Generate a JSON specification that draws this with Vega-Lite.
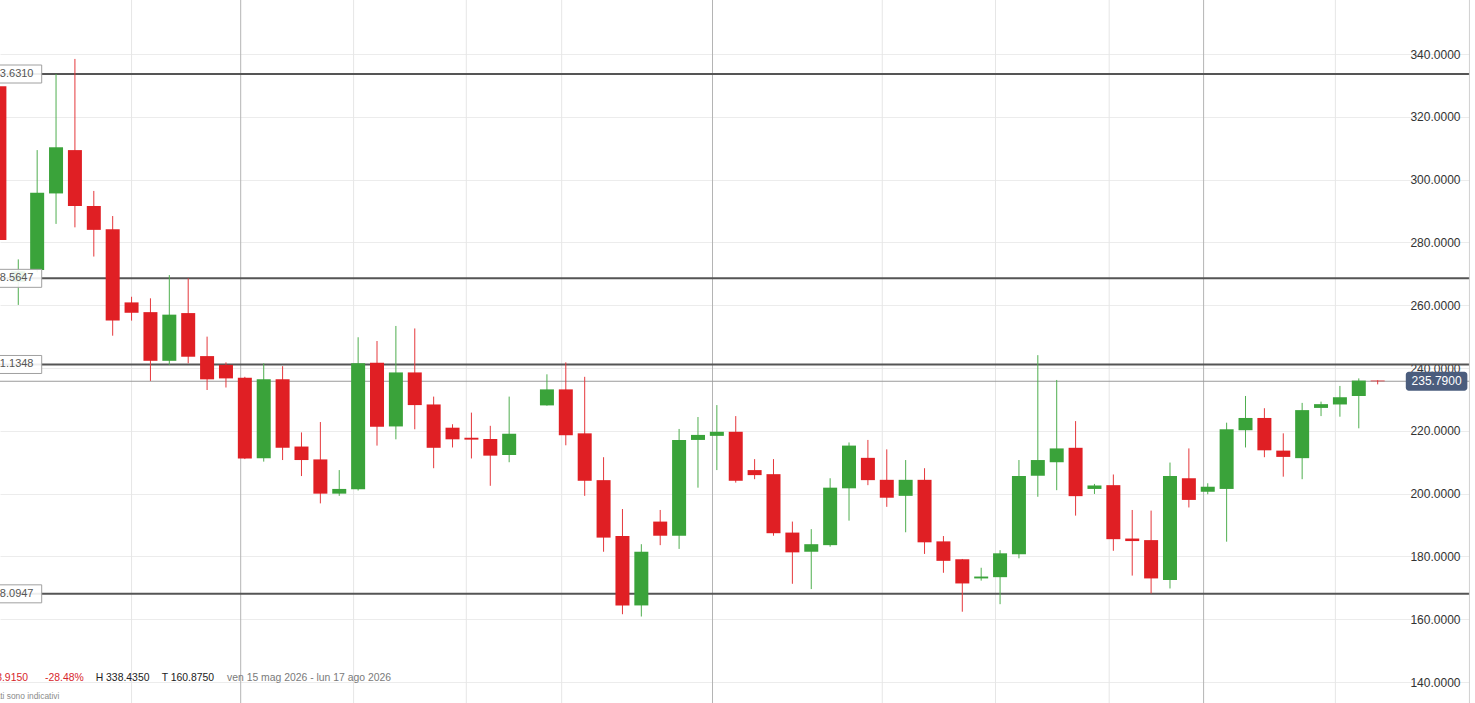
{
  "$schema": "https://vega.github.io/schema/vega-lite/v6.json",
  "width": 1470,
  "height": 703,
  "autosize": {"type": "none"},
  "padding": 0,
  "background": "white",
  "config": {"view": {"stroke": null}, "font": "Liberation Sans"},
  "datasets": {
    "candles": [
      {"s": 0, "o": 329.7, "h": 331.0, "l": 279.5, "c": 280.8},
      {"s": 1, "o": 267.5, "h": 274.6, "l": 260.1, "c": 270.8},
      {"s": 2, "o": 271.2, "h": 309.4, "l": 270.5, "c": 295.8},
      {"s": 3, "o": 295.6, "h": 333.6, "l": 285.9, "c": 310.3},
      {"s": 4, "o": 309.4, "h": 338.435, "l": 284.8, "c": 291.6},
      {"s": 5, "o": 291.6, "h": 296.4, "l": 275.5, "c": 284.0},
      {"s": 6, "o": 284.2, "h": 288.4, "l": 250.3, "c": 255.1},
      {"s": 7, "o": 260.9, "h": 262.7, "l": 255.1, "c": 257.6},
      {"s": 8, "o": 257.8, "h": 262.2, "l": 235.9, "c": 242.3},
      {"s": 9, "o": 242.3, "h": 269.6, "l": 241.0, "c": 257.0},
      {"s": 10, "o": 257.5, "h": 268.6, "l": 241.5, "c": 243.6},
      {"s": 11, "o": 243.8, "h": 250.0, "l": 233.0, "c": 236.4},
      {"s": 12, "o": 241.0, "h": 241.8, "l": 233.8, "c": 236.7},
      {"s": 13, "o": 236.9, "h": 237.2, "l": 211.0, "c": 211.2},
      {"s": 14, "o": 211.3, "h": 241.5, "l": 210.2, "c": 236.4},
      {"s": 15, "o": 236.4, "h": 240.6, "l": 210.7, "c": 214.6},
      {"s": 16, "o": 215.0, "h": 219.5, "l": 205.6, "c": 210.7},
      {"s": 17, "o": 210.9, "h": 222.8, "l": 196.9, "c": 200.0},
      {"s": 18, "o": 200.0, "h": 207.5, "l": 199.3, "c": 201.5},
      {"s": 19, "o": 201.4, "h": 249.8, "l": 201.0, "c": 241.5},
      {"s": 20, "o": 241.7, "h": 248.6, "l": 215.3, "c": 221.3},
      {"s": 21, "o": 221.4, "h": 253.4, "l": 217.3, "c": 238.6},
      {"s": 22, "o": 238.6, "h": 252.6, "l": 220.5, "c": 228.2},
      {"s": 23, "o": 228.4, "h": 230.9, "l": 208.1, "c": 214.6},
      {"s": 24, "o": 221.0, "h": 222.1, "l": 214.7, "c": 217.3},
      {"s": 25, "o": 217.8, "h": 225.8, "l": 211.2, "c": 217.2},
      {"s": 26, "o": 217.4, "h": 221.6, "l": 202.5, "c": 212.1},
      {"s": 27, "o": 212.3, "h": 230.9, "l": 210.0, "c": 219.1},
      {"s": 29, "o": 228.1, "h": 238.0, "l": 228.0, "c": 233.2},
      {"s": 30, "o": 233.2, "h": 241.8, "l": 215.4, "c": 218.6},
      {"s": 31, "o": 219.2, "h": 237.2, "l": 199.3, "c": 204.1},
      {"s": 32, "o": 204.3, "h": 211.6, "l": 181.5, "c": 186.0},
      {"s": 33, "o": 186.5, "h": 195.1, "l": 161.6, "c": 164.4},
      {"s": 34, "o": 164.4, "h": 183.9, "l": 160.875, "c": 181.5},
      {"s": 35, "o": 191.1, "h": 194.8, "l": 183.6, "c": 186.6},
      {"s": 36, "o": 186.6, "h": 220.6, "l": 182.4, "c": 217.1},
      {"s": 37, "o": 217.1, "h": 224.4, "l": 201.9, "c": 218.7},
      {"s": 38, "o": 218.4, "h": 228.2, "l": 207.5, "c": 219.7},
      {"s": 39, "o": 219.7, "h": 224.7, "l": 203.5, "c": 204.1},
      {"s": 40, "o": 207.5, "h": 211.0, "l": 204.6, "c": 205.9},
      {"s": 41, "o": 206.2, "h": 211.0, "l": 186.6, "c": 187.4},
      {"s": 42, "o": 187.6, "h": 191.1, "l": 171.3, "c": 181.3},
      {"s": 43, "o": 181.5, "h": 188.7, "l": 169.6, "c": 183.9},
      {"s": 44, "o": 183.6, "h": 204.9, "l": 183.1, "c": 201.9},
      {"s": 45, "o": 201.7, "h": 216.3, "l": 191.4, "c": 215.3},
      {"s": 46, "o": 211.4, "h": 217.1, "l": 202.7, "c": 204.3},
      {"s": 47, "o": 204.4, "h": 214.1, "l": 195.8, "c": 198.7},
      {"s": 48, "o": 199.3, "h": 210.7, "l": 187.7, "c": 204.4},
      {"s": 49, "o": 204.4, "h": 208.1, "l": 180.8, "c": 184.5},
      {"s": 50, "o": 184.8, "h": 186.5, "l": 174.8, "c": 178.6},
      {"s": 51, "o": 179.1, "h": 179.2, "l": 162.4, "c": 171.4},
      {"s": 52, "o": 173.0, "h": 176.4, "l": 172.3, "c": 173.6},
      {"s": 53, "o": 173.4, "h": 182.0, "l": 164.8, "c": 181.0},
      {"s": 54, "o": 180.7, "h": 210.7, "l": 179.4, "c": 205.6},
      {"s": 55, "o": 205.7, "h": 244.1, "l": 199.0, "c": 210.7},
      {"s": 56, "o": 210.0, "h": 236.2, "l": 201.1, "c": 214.4},
      {"s": 57, "o": 214.6, "h": 223.1, "l": 193.0, "c": 199.2},
      {"s": 58, "o": 201.5, "h": 203.1, "l": 199.9, "c": 202.6},
      {"s": 59, "o": 202.7, "h": 206.1, "l": 181.8, "c": 185.5},
      {"s": 60, "o": 185.7, "h": 194.8, "l": 173.9, "c": 184.9},
      {"s": 61, "o": 185.2, "h": 194.6, "l": 168.2, "c": 173.0},
      {"s": 62, "o": 172.5, "h": 209.9, "l": 169.8, "c": 205.6},
      {"s": 63, "o": 204.9, "h": 214.4, "l": 195.6, "c": 198.0},
      {"s": 64, "o": 200.6, "h": 203.3, "l": 199.8, "c": 202.2},
      {"s": 65, "o": 201.5, "h": 222.6, "l": 184.7, "c": 220.5},
      {"s": 66, "o": 220.2, "h": 231.1, "l": 214.7, "c": 224.1},
      {"s": 67, "o": 224.1, "h": 227.2, "l": 211.6, "c": 213.8},
      {"s": 68, "o": 213.7, "h": 219.2, "l": 205.4, "c": 211.7},
      {"s": 69, "o": 211.3, "h": 228.9, "l": 204.6, "c": 226.6},
      {"s": 70, "o": 227.3, "h": 229.3, "l": 224.7, "c": 228.5},
      {"s": 71, "o": 228.4, "h": 234.3, "l": 224.5, "c": 230.7},
      {"s": 72, "o": 231.1, "h": 236.7, "l": 220.8, "c": 236.0},
      {"s": 73, "o": 236.0, "h": 236.1, "l": 234.8, "c": 235.79}
    ],
    "vgrid": [
      {"s": 7.0, "kind": "week"},
      {"s": 12.78, "kind": "month"},
      {"s": 18.76, "kind": "week"},
      {"s": 24.73, "kind": "week"},
      {"s": 29.78, "kind": "week"},
      {"s": 37.77, "kind": "month"},
      {"s": 46.76, "kind": "week"},
      {"s": 52.76, "kind": "week"},
      {"s": 58.78, "kind": "week"},
      {"s": 63.78, "kind": "month"},
      {"s": 70.76, "kind": "week"}
    ],
    "levels": [
      {"lvl": 333.631, "txt": "333.6310"},
      {"lvl": 268.5647, "txt": "268.5647"},
      {"lvl": 241.1348, "txt": "241.1348"},
      {"lvl": 168.0947, "txt": "168.0947"}
    ],
    "last": [
      {"p": 235.79, "txt": "235.7900", "x0": 74.49, "x1": 77.75, "xm": 76.12}
    ],
    "edge": [
      {"xe": 77.86}
    ]
  },
  "layer": [
    {
      "data": {"name": "vgrid"},
      "mark": {"type": "rule", "strokeWidth": 1},
      "encoding": {
        "x": {"field": "s", "type": "quantitative", "scale": {"domain": [0.032, 77.89], "nice": false, "zero": false, "padding": 0}, "axis": null},
        "color": {"field": "kind", "type": "nominal", "scale": {"domain": ["week", "month"], "range": ["#e6e6e6", "#b4b4b4"]}, "legend": null}
      }
    },
    {
      "data": {"name": "levels"},
      "mark": {"type": "rule", "strokeWidth": 2, "color": "#555555"},
      "encoding": {
        "y": {"field": "lvl", "type": "quantitative", "scale": {"domain": [133.33, 357.2], "nice": false, "zero": false, "padding": 0},
          "axis": {"orient": "right", "title": null, "values": [140, 160, 180, 200, 220, 240, 260, 280, 300, 320, 340], "format": ".4f", "grid": true, "gridColor": "#ececec", "gridWidth": 1, "domain": false, "ticks": false, "labelAlign": "right", "labelBaseline": "middle", "labelPadding": -10, "labelFontSize": 12, "labelColor": "#333333", "labelFont": "Liberation Sans"}}
      }
    },
    {
      "data": {"name": "last"},
      "mark": {"type": "rule", "strokeWidth": 1, "color": "#9a9a9a"},
      "encoding": {
        "y": {"field": "p", "type": "quantitative", "scale": {"domain": [133.33, 357.2], "nice": false, "zero": false, "padding": 0},
          "axis": {"orient": "right", "title": null, "values": [140, 160, 180, 200, 220, 240, 260, 280, 300, 320, 340], "format": ".4f", "grid": true, "gridColor": "#ececec", "gridWidth": 1, "domain": false, "ticks": false, "labelAlign": "right", "labelBaseline": "middle", "labelPadding": -10, "labelFontSize": 12, "labelColor": "#333333", "labelFont": "Liberation Sans"}}
      }
    },
    {
      "data": {"name": "candles"},
      "mark": {"type": "rule", "strokeWidth": 1},
      "encoding": {
        "x": {"field": "s", "type": "quantitative", "scale": {"domain": [0.032, 77.89], "nice": false, "zero": false, "padding": 0}, "axis": null},
        "y": {"field": "l", "type": "quantitative", "scale": {"domain": [133.33, 357.2], "nice": false, "zero": false, "padding": 0},
          "axis": {"orient": "right", "title": null, "values": [140, 160, 180, 200, 220, 240, 260, 280, 300, 320, 340], "format": ".4f", "grid": true, "gridColor": "#ececec", "gridWidth": 1, "domain": false, "ticks": false, "labelAlign": "right", "labelBaseline": "middle", "labelPadding": -10, "labelFontSize": 12, "labelColor": "#333333", "labelFont": "Liberation Sans"}},
        "y2": {"field": "h"},
        "stroke": {"condition": {"test": "datum.c < datum.o", "value": "#e5383c"}, "value": "#4fae4f"}
      }
    },
    {
      "data": {"name": "candles"},
      "mark": {"type": "bar", "width": 14, "minBandSize": 1.5},
      "encoding": {
        "x": {"field": "s", "type": "quantitative", "scale": {"domain": [0.032, 77.89], "nice": false, "zero": false, "padding": 0}, "axis": null},
        "y": {"field": "o", "type": "quantitative", "scale": {"domain": [133.33, 357.2], "nice": false, "zero": false, "padding": 0},
          "axis": {"orient": "right", "title": null, "values": [140, 160, 180, 200, 220, 240, 260, 280, 300, 320, 340], "format": ".4f", "grid": true, "gridColor": "#ececec", "gridWidth": 1, "domain": false, "ticks": false, "labelAlign": "right", "labelBaseline": "middle", "labelPadding": -10, "labelFontSize": 12, "labelColor": "#333333", "labelFont": "Liberation Sans"}},
        "y2": {"field": "c"},
        "fill": {"condition": {"test": "datum.c < datum.o", "value": "#e01f24"}, "value": "#3aa33a"}
      }
    },
    {
      "data": {"name": "levels"},
      "mark": {"type": "rect", "fill": "white", "fillOpacity": 0.9, "stroke": "#a0a0a0", "strokeWidth": 1, "yOffset": -9, "y2Offset": 9},
      "encoding": {
        "x": {"datum": -3, "type": "quantitative", "scale": {"domain": [0.032, 77.89], "nice": false, "zero": false, "padding": 0}, "axis": null},
        "x2": {"datum": 2.24},
        "y": {"field": "lvl", "type": "quantitative", "scale": {"domain": [133.33, 357.2], "nice": false, "zero": false, "padding": 0},
          "axis": {"orient": "right", "title": null, "values": [140, 160, 180, 200, 220, 240, 260, 280, 300, 320, 340], "format": ".4f", "grid": true, "gridColor": "#ececec", "gridWidth": 1, "domain": false, "ticks": false, "labelAlign": "right", "labelBaseline": "middle", "labelPadding": -10, "labelFontSize": 12, "labelColor": "#333333", "labelFont": "Liberation Sans"}},
        "y2": {"field": "lvl"}
      }
    },
    {
      "data": {"name": "levels"},
      "mark": {"type": "text", "align": "right", "baseline": "middle", "fontSize": 11, "color": "#555555", "font": "Liberation Sans"},
      "encoding": {
        "x": {"datum": 1.806, "type": "quantitative", "scale": {"domain": [0.032, 77.89], "nice": false, "zero": false, "padding": 0}, "axis": null},
        "y": {"field": "lvl", "type": "quantitative", "scale": {"domain": [133.33, 357.2], "nice": false, "zero": false, "padding": 0},
          "axis": {"orient": "right", "title": null, "values": [140, 160, 180, 200, 220, 240, 260, 280, 300, 320, 340], "format": ".4f", "grid": true, "gridColor": "#ececec", "gridWidth": 1, "domain": false, "ticks": false, "labelAlign": "right", "labelBaseline": "middle", "labelPadding": -10, "labelFontSize": 12, "labelColor": "#333333", "labelFont": "Liberation Sans"}},
        "text": {"field": "txt"}
      }
    },
    {
      "data": {"name": "last"},
      "mark": {"type": "rect", "fill": "#4b5d7d", "cornerRadius": 3, "yOffset": -9.5, "y2Offset": 9.5},
      "encoding": {
        "x": {"field": "x0", "type": "quantitative", "scale": {"domain": [0.032, 77.89], "nice": false, "zero": false, "padding": 0}, "axis": null},
        "x2": {"field": "x1"},
        "y": {"field": "p", "type": "quantitative", "scale": {"domain": [133.33, 357.2], "nice": false, "zero": false, "padding": 0},
          "axis": {"orient": "right", "title": null, "values": [140, 160, 180, 200, 220, 240, 260, 280, 300, 320, 340], "format": ".4f", "grid": true, "gridColor": "#ececec", "gridWidth": 1, "domain": false, "ticks": false, "labelAlign": "right", "labelBaseline": "middle", "labelPadding": -10, "labelFontSize": 12, "labelColor": "#333333", "labelFont": "Liberation Sans"}},
        "y2": {"field": "p"}
      }
    },
    {
      "data": {"name": "last"},
      "mark": {"type": "text", "align": "center", "baseline": "middle", "fontSize": 12, "color": "white", "font": "Liberation Sans"},
      "encoding": {
        "x": {"field": "xm", "type": "quantitative", "scale": {"domain": [0.032, 77.89], "nice": false, "zero": false, "padding": 0}, "axis": null},
        "y": {"field": "p", "type": "quantitative", "scale": {"domain": [133.33, 357.2], "nice": false, "zero": false, "padding": 0},
          "axis": {"orient": "right", "title": null, "values": [140, 160, 180, 200, 220, 240, 260, 280, 300, 320, 340], "format": ".4f", "grid": true, "gridColor": "#ececec", "gridWidth": 1, "domain": false, "ticks": false, "labelAlign": "right", "labelBaseline": "middle", "labelPadding": -10, "labelFontSize": 12, "labelColor": "#333333", "labelFont": "Liberation Sans"}},
        "text": {"field": "txt"}
      }
    },
    {
      "data": {"values": [
        {"x": 1.515, "y": 141.2, "t": "-93.9150"}
      ]},
      "mark": {"type": "text", "align": "right", "baseline": "middle", "font": "Liberation Sans", "fontSize": 10.4, "color": "#d7262c"},
      "encoding": {
        "x": {"field": "x", "type": "quantitative", "scale": {"domain": [0.032, 77.89], "nice": false, "zero": false, "padding": 0}, "axis": null},
        "y": {"field": "y", "type": "quantitative", "scale": {"domain": [133.33, 357.2], "nice": false, "zero": false, "padding": 0},
          "axis": {"orient": "right", "title": null, "values": [140, 160, 180, 200, 220, 240, 260, 280, 300, 320, 340], "format": ".4f", "grid": true, "gridColor": "#ececec", "gridWidth": 1, "domain": false, "ticks": false, "labelAlign": "right", "labelBaseline": "middle", "labelPadding": -10, "labelFontSize": 12, "labelColor": "#333333", "labelFont": "Liberation Sans"}},
        "text": {"field": "t"}
      }
    },
    {
      "data": {"values": [
        {"x": 2.415, "y": 141.2, "t": "-28.48%"}
      ]},
      "mark": {"type": "text", "align": "left", "baseline": "middle", "font": "Liberation Sans", "fontSize": 10.4, "color": "#d7262c"},
      "encoding": {
        "x": {"field": "x", "type": "quantitative", "scale": {"domain": [0.032, 77.89], "nice": false, "zero": false, "padding": 0}, "axis": null},
        "y": {"field": "y", "type": "quantitative", "scale": {"domain": [133.33, 357.2], "nice": false, "zero": false, "padding": 0},
          "axis": {"orient": "right", "title": null, "values": [140, 160, 180, 200, 220, 240, 260, 280, 300, 320, 340], "format": ".4f", "grid": true, "gridColor": "#ececec", "gridWidth": 1, "domain": false, "ticks": false, "labelAlign": "right", "labelBaseline": "middle", "labelPadding": -10, "labelFontSize": 12, "labelColor": "#333333", "labelFont": "Liberation Sans"}},
        "text": {"field": "t"}
      }
    },
    {
      "data": {"values": [
        {"x": 5.101, "y": 141.2, "t": "H 338.4350"},
        {"x": 8.597, "y": 141.2, "t": "T 160.8750"}
      ]},
      "mark": {"type": "text", "align": "left", "baseline": "middle", "font": "Liberation Sans", "fontSize": 10.4, "color": "#222222"},
      "encoding": {
        "x": {"field": "x", "type": "quantitative", "scale": {"domain": [0.032, 77.89], "nice": false, "zero": false, "padding": 0}, "axis": null},
        "y": {"field": "y", "type": "quantitative", "scale": {"domain": [133.33, 357.2], "nice": false, "zero": false, "padding": 0},
          "axis": {"orient": "right", "title": null, "values": [140, 160, 180, 200, 220, 240, 260, 280, 300, 320, 340], "format": ".4f", "grid": true, "gridColor": "#ececec", "gridWidth": 1, "domain": false, "ticks": false, "labelAlign": "right", "labelBaseline": "middle", "labelPadding": -10, "labelFontSize": 12, "labelColor": "#333333", "labelFont": "Liberation Sans"}},
        "text": {"field": "t"}
      }
    },
    {
      "data": {"values": [
        {"x": 12.055, "y": 141.2, "t": "ven 15 mag 2026 - lun 17 ago 2026"}
      ]},
      "mark": {"type": "text", "align": "left", "baseline": "middle", "font": "Liberation Sans", "fontSize": 10.4, "color": "#7a7a7a"},
      "encoding": {
        "x": {"field": "x", "type": "quantitative", "scale": {"domain": [0.032, 77.89], "nice": false, "zero": false, "padding": 0}, "axis": null},
        "y": {"field": "y", "type": "quantitative", "scale": {"domain": [133.33, 357.2], "nice": false, "zero": false, "padding": 0},
          "axis": {"orient": "right", "title": null, "values": [140, 160, 180, 200, 220, 240, 260, 280, 300, 320, 340], "format": ".4f", "grid": true, "gridColor": "#ececec", "gridWidth": 1, "domain": false, "ticks": false, "labelAlign": "right", "labelBaseline": "middle", "labelPadding": -10, "labelFontSize": 12, "labelColor": "#333333", "labelFont": "Liberation Sans"}},
        "text": {"field": "t"}
      }
    },
    {
      "data": {"values": [
        {"x": 3.173, "y": 135.56, "t": "I dati sono indicativi"}
      ]},
      "mark": {"type": "text", "align": "right", "baseline": "middle", "font": "Liberation Sans", "fontSize": 8.4, "color": "#8a8a8a"},
      "encoding": {
        "x": {"field": "x", "type": "quantitative", "scale": {"domain": [0.032, 77.89], "nice": false, "zero": false, "padding": 0}, "axis": null},
        "y": {"field": "y", "type": "quantitative", "scale": {"domain": [133.33, 357.2], "nice": false, "zero": false, "padding": 0},
          "axis": {"orient": "right", "title": null, "values": [140, 160, 180, 200, 220, 240, 260, 280, 300, 320, 340], "format": ".4f", "grid": true, "gridColor": "#ececec", "gridWidth": 1, "domain": false, "ticks": false, "labelAlign": "right", "labelBaseline": "middle", "labelPadding": -10, "labelFontSize": 12, "labelColor": "#333333", "labelFont": "Liberation Sans"}},
        "text": {"field": "t"}
      }
    },
    {
      "data": {"name": "edge"},
      "mark": {"type": "rule", "strokeWidth": 1, "color": "#d0d0d0"},
      "encoding": {
        "x": {"field": "xe", "type": "quantitative", "scale": {"domain": [0.032, 77.89], "nice": false, "zero": false, "padding": 0}, "axis": null}
      }
    }
  ]
}
